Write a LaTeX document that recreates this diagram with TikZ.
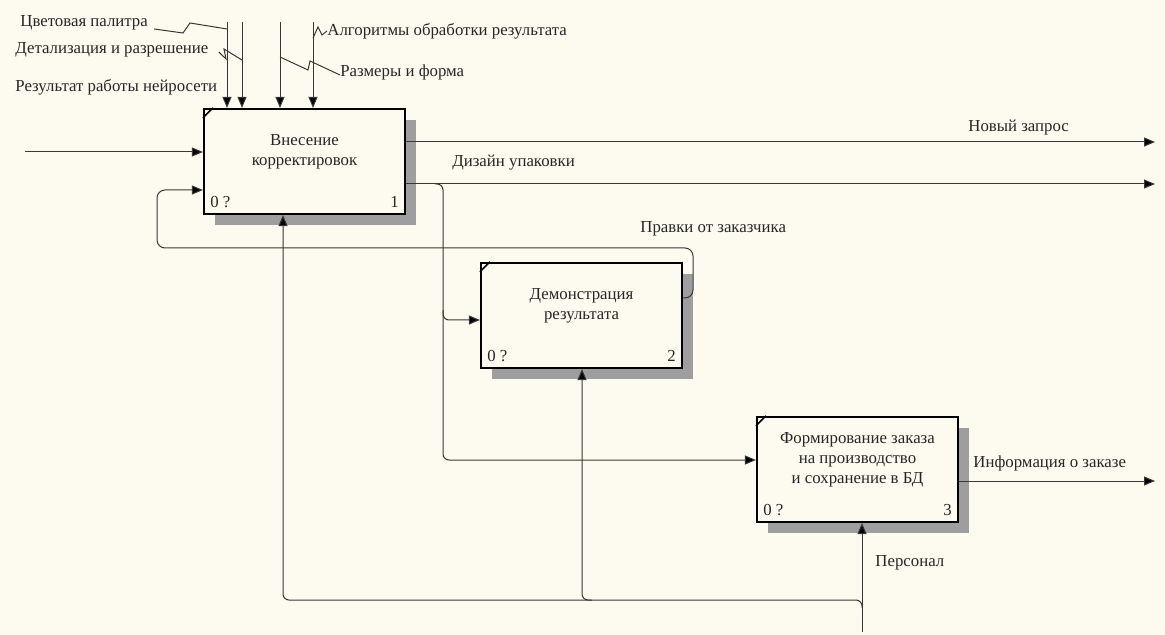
\documentclass[tikz,border=0pt]{standalone}
\usepackage{fontspec}
\setmainfont{Liberation Serif}
\usepackage{tikz}
\usetikzlibrary{arrows.meta,shadows}
\definecolor{bgcol}{RGB}{253,250,240}
\definecolor{lncol}{RGB}{55,55,55}

\begin{document}
\begin{tikzpicture}[x=0.5pt,y=-0.5pt,%[1 unit = 1 px]
  font=\fontsize{8.4}{10}\selectfont,
  proc/.style={draw=black,line width=1.1pt,fill=bgcol,minimum width=100.5pt,minimum height=52.5pt,inner sep=0pt,
    drop shadow={shadow xshift=5.5pt,shadow yshift=-5.5pt,fill=black!38,opacity=1}},
  ptxt/.style={align=center,inner sep=0pt,text=black!85},
  lbl/.style={anchor=west,inner sep=0pt,text=black!85},
  arr/.style={draw=lncol,line width=0.5pt,-{Triangle[length=5.5pt,width=4.5pt,fill=black]}},
  ln/.style={draw=lncol,line width=0.5pt}]
	\path[use as bounding box,fill=bgcol] (0,0) rectangle (1165,635);
	% blocks
	\node[proc] (b1) at (304.5,161.5) {};
	\node[proc] (b2) at (581.5,315.5) {};
	\node[proc] (b3) at (857.5,469.5) {};
	\node[ptxt] (t1) at ([yshift=5pt]b1.center) {Внесение\\корректировок};
	\node[ptxt] (t2) at ([yshift=5pt]b2.center) {Демонстрация\\результата};
	\node[ptxt] (t3) at ([yshift=5pt]b3.center) {Формирование заказа\\на производство\\и сохранение в БД};
	\foreach \b/\n in {b1/1,b2/2,b3/3}{
	 \draw[line width=0.8pt] ([yshift=-5pt]\b.north west) -- ([xshift=5pt]\b.north west);
	 \node[anchor=south west,inner sep=3.5pt,text=black!85] (\b l) at (\b.south west) {0 ?};
	 \node[anchor=south east,inner sep=3.5pt,text=black!85] (\b r) at (\b.south east) {\n};
	}
	% labels
	\node[lbl] (lPal) at (20,23) {Цветовая палитра};
	\node[lbl] (lDet) at (15,50) {Детализация и разрешение};
	\node[lbl] (lNet) at (15,87) {Результат работы нейросети};
	\node[lbl] (lAlg) at (327,31) {Алгоритмы обработки результата};
	\node[lbl] (lRaz) at (340,72) {Размеры и форма};
	\node[lbl] (lNew) at (968,128) {Новый запрос};
	\node[lbl] (lDiz) at (452,163) {Дизайн упаковки};
	\node[lbl] (lPr) at (640,229) {Правки от заказчика};
	\node[lbl] (lInf) at (973,463) {Информация о заказе};
	\node[lbl] (lPer) at (875,563) {Персонал};
	% input
	\coordinate (inL) at (25,152);
	\draw[arr] (inL) -- (inL -| b1.west);
	% controls
	\foreach \x/\c in {227/c1,242/c2,280/c3,313/c4}{
	 \coordinate (\c) at (\x,22);
	 \draw[arr] (\c) -- (\c |- b1.north);
	}
	\draw[ln] ([xshift=3pt,yshift=-3pt]lPal.east) -- (183,33) -- (190,23) -- (c1 |- 0,29);
	\draw[ln] ([xshift=5pt,yshift=-1pt]lDet.east) -- (226,59) -- (224,49) -- (c2 |- 0,60);
	\draw[ln] (c3 |- 0,57) -- (308,70) -- (310,61) -- ([yshift=-1.5pt]lRaz.west);
	\draw[ln] (c4 |- 0,38) -- (318,27) -- (322,35) -- (lAlg.west);
	% outputs
	\coordinate (oNew) at (1155,142);
	\coordinate (oDiz) at (1155,184);
	\coordinate (oInf) at (1155,481);
	\draw[arr] (oNew -| b1.east) -- (oNew);
	\draw[arr] (oDiz -| b1.east) -- (oDiz);
	\draw[arr] (oInf -| b3.east) -- (oInf);
	% design goes to 2 and 3
	\coordinate (in2) at (b2.west |- 0,320);
	\coordinate (in3) at (b3.west |- 0,460);
	\draw[arr,rounded corners=3pt] (435,184) -- (443,184) -- (in3 -| 443,0) -- (in3);
	\draw[arr,rounded corners=3pt] (443,310) -- (in2 -| 443,0) -- (in2);
	% feedback
	\coordinate (o2) at (b2.east |- 0,298);
	\coordinate (in1b) at (b1.west |- 0,190);
	\draw[arr,rounded corners=4pt] (o2) -- (693,298) -- (693,248) -- (157,248) -- (157,190) -- (in1b);
	% mechanism
	\coordinate (mech) at (862,632);
	\draw[arr] (mech) -- (mech |- b3.south);
	\draw[arr,rounded corners=3pt] (862,608) -- (862,600) -- (283,600) -- (283,0 |- b1.south);
	\draw[arr,rounded corners=3pt] (592,600) -- (582,600) -- (582,0 |- b2.south);
\end{tikzpicture}
\end{document}
